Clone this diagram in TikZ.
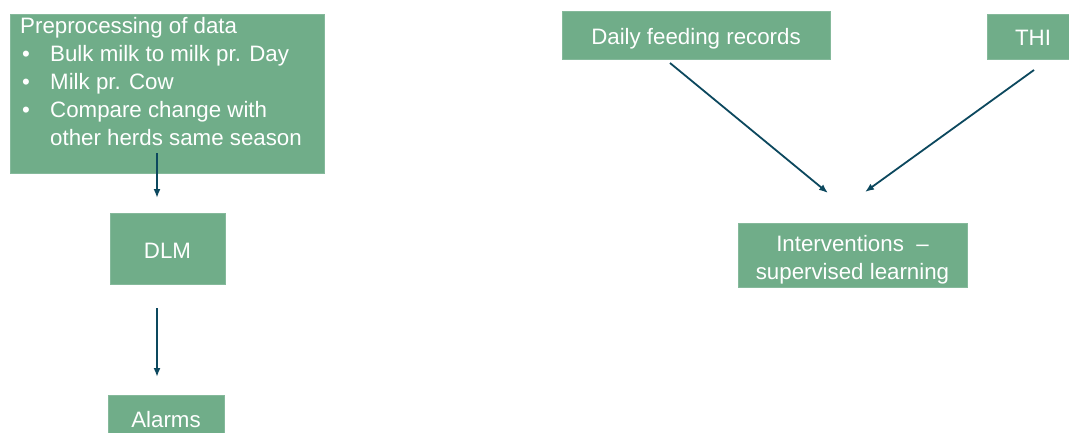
\documentclass[tikz,border=0pt]{standalone}
\usepackage{fontspec}
\setmainfont{Liberation Sans}
\usetikzlibrary{arrows.meta}
\definecolor{boxgreen}{RGB}{112,173,137}
\definecolor{arrowblue}{RGB}{12,72,94}
\newcommand\lowerby[2]{\raisebox{-#1}[\height][\depth]{#2}}
\tikzset{
  box/.style={fill=boxgreen, draw=boxgreen!85!white, line width=0.6pt, inner sep=0pt,
    text=white, font=\fontsize{22.3}{27}\selectfont, align=center},
  conn/.style={draw=arrowblue, line width=1.8pt, -{Latex[length=9pt,width=7pt]}}
}
\begin{document}
\begin{tikzpicture}[x=1pt,y=-1pt]
\clip (0,0) rectangle (1069,432);
\fill[white] (0,0) rectangle (1069,432);
% boxes
\node[box, minimum width=314pt, minimum height=159pt, anchor=north west] (pre) at (10,14) {};
\node[anchor=north west, inner sep=0pt, align=left, text=white,
  font=\fontsize{22.3}{27.8}\selectfont] (pretext) at (20,17.5) {%
Preprocessing of data\\
\makebox[30pt][l]{\hspace{2pt}•}Bulk milk to milk pr. Day\\
\makebox[30pt][l]{\hspace{2pt}•}Milk pr. Cow\\
\makebox[30pt][l]{\hspace{2pt}•}Compare change with\\
\makebox[30pt][l]{}other herds same season};
\node[box, minimum width=115pt, minimum height=71pt] (dlm) at (167.5,248.5) {\lowerby{2pt}{DLM}};
\node[box, minimum width=116pt, minimum height=50pt] (alarms) at (166,420) {Alarms};
\node[box, minimum width=268pt, minimum height=48pt] (daily) at (696,35) {\lowerby{4pt}{Daily feeding records}};
\node[box, minimum width=92pt, minimum height=45pt, text width=92pt] (thi) at (1033,36.5) {\lowerby{1pt}{THI}};
\node[box, minimum width=229pt, minimum height=64pt] (int) at (852.5,255) {\lowerby{4.5pt}{\parbox{229pt}{\centering\fontsize{22.3}{28}\selectfont Interventions~~–\\supervised learning}}};
% connector ends
\coordinate (a1s) at (157,153);
\coordinate (a1e) at (157,198);
\coordinate (a2s) at (157,308);
\coordinate (a2e) at (157,377);
\coordinate (a3s) at (670,63);
\coordinate (a3e) at (828,193);
\coordinate (a4s) at (1034,70);
\coordinate (a4e) at (865,192);
\draw[conn] (a1s) -- (a1e);
\draw[conn] (a2s) -- (a2e);
\draw[conn] (a3s) -- (a3e);
\draw[conn] (a4s) -- (a4e);
\end{tikzpicture}
\end{document}
